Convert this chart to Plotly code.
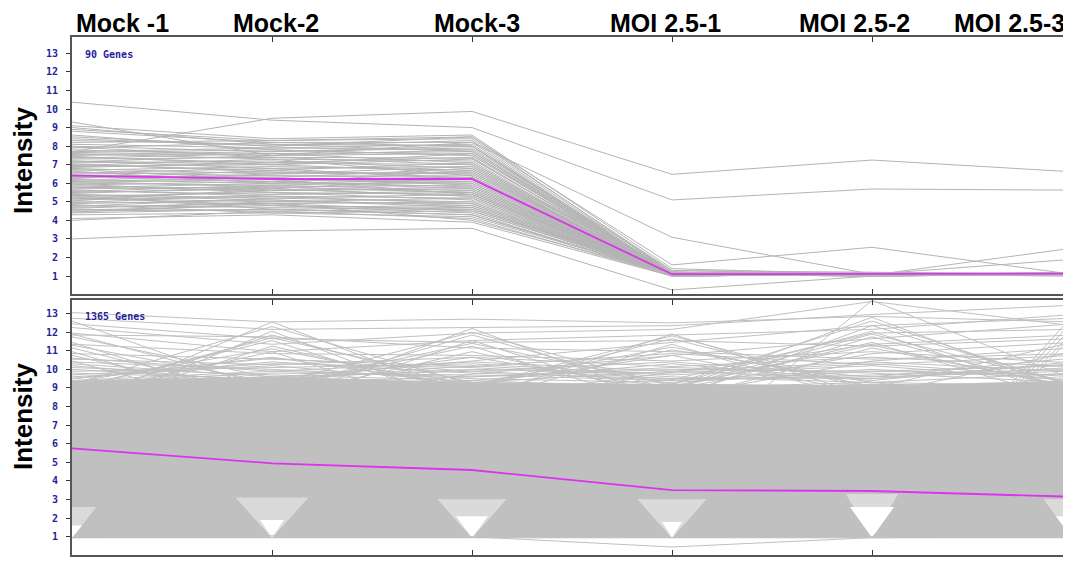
import plotly.graph_objects as go

# ---------------- data ----------------
conditions = ["Mock -1", "Mock-2", "Mock-3", "MOI 2.5-1", "MOI 2.5-2", "MOI 2.5-3"]
y_ticks = [1, 2, 3, 4, 5, 6, 7, 8, 9, 10, 11, 12, 13]
top_count_label = "90 Genes"
bottom_count_label = "1365 Genes"

# top panel: one row per gene, values at the six conditions
top_genes = [
    [10.37, 9.4, 9.0, 5.1, 5.69, 5.63],
    [7.7, 9.5, 9.87, 6.48, 7.25, 6.62],
    [9.3, 7.5, 8.2, 3.09, 1.1, 1.15],
    [3.0, 3.43, 3.57, 0.25, 1.0, 1.1],
    [8.9, 8.3, 8.5, 1.6, 2.55, 1.1],
    [6.1, 5.8, 5.5, 1.1, 1.05, 2.5],
    [7.2, 6.8, 6.9, 1.2, 1.1, 1.9],
    [8.4, 8.0, 8.3, 1.2, 1.1, 1.1],
    [8.2, 8.3, 8.4, 1.3, 1.1, 1.1],
    [8.1, 7.9, 8.1, 1.1, 1.1, 1.1],
    [8.0, 7.7, 7.9, 1.2, 1.2, 1.1],
    [7.9, 8.2, 8.2, 1.1, 1.1, 1.2],
    [7.8, 7.5, 7.6, 1.1, 1.1, 1.1],
    [7.7, 7.9, 7.8, 1.2, 1.1, 1.1],
    [7.6, 7.3, 7.2, 1.1, 1.0, 1.1],
    [7.5, 7.6, 7.7, 1.1, 1.1, 1.1],
    [7.4, 7.1, 7.4, 1.0, 1.1, 1.1],
    [7.3, 7.4, 7.0, 1.1, 1.1, 1.0],
    [7.2, 7.0, 7.3, 1.2, 1.1, 1.1],
    [7.1, 7.2, 6.8, 1.1, 1.1, 1.1],
    [7.0, 6.7, 7.1, 1.1, 1.0, 1.1],
    [6.9, 7.0, 6.6, 1.1, 1.1, 1.1],
    [6.8, 6.5, 6.9, 1.0, 1.1, 1.1],
    [6.7, 6.9, 6.7, 1.1, 1.1, 1.1],
    [6.6, 6.4, 6.3, 1.1, 1.1, 1.1],
    [6.5, 6.6, 6.5, 1.2, 1.1, 1.1],
    [6.4, 6.2, 6.0, 1.1, 1.1, 1.1],
    [6.3, 6.4, 6.4, 1.1, 1.0, 1.1],
    [6.2, 6.0, 6.2, 1.1, 1.1, 1.1],
    [6.1, 6.3, 5.9, 1.0, 1.1, 1.1],
    [6.0, 5.9, 6.1, 1.1, 1.1, 1.1],
    [5.9, 6.1, 5.7, 1.1, 1.1, 1.1],
    [5.8, 5.6, 5.8, 1.1, 1.1, 1.0],
    [5.7, 5.8, 5.5, 1.1, 1.1, 1.1],
    [5.6, 5.4, 5.6, 1.2, 1.1, 1.1],
    [5.5, 5.7, 5.3, 1.1, 1.1, 1.1],
    [5.4, 5.2, 5.4, 1.1, 1.0, 1.1],
    [5.3, 5.5, 5.1, 1.1, 1.1, 1.1],
    [5.2, 5.0, 5.2, 1.0, 1.1, 1.1],
    [5.1, 5.3, 4.9, 1.1, 1.1, 1.1],
    [5.0, 4.9, 5.0, 1.1, 1.1, 1.1],
    [4.9, 5.1, 4.7, 1.1, 1.1, 1.1],
    [4.8, 4.7, 4.8, 1.1, 1.1, 1.1],
    [4.7, 4.9, 4.5, 1.1, 1.1, 1.1],
    [4.6, 4.5, 4.6, 1.2, 1.1, 1.1],
    [4.5, 4.6, 4.3, 1.1, 1.1, 1.1],
    [4.3, 4.4, 4.2, 1.1, 1.0, 1.1],
    [4.1, 4.3, 3.9, 1.0, 1.1, 1.1],
    [8.8, 8.2, 8.0, 1.3, 1.2, 1.1],
    [9.1, 8.4, 8.6, 1.4, 1.1, 1.1],
    [9.0, 8.1, 7.7, 1.2, 1.1, 1.1],
    [8.6, 7.8, 7.5, 1.1, 1.1, 1.1],
    [8.3, 8.1, 8.0, 1.1, 1.1, 1.1],
    [7.95, 7.4, 7.35, 1.1, 1.1, 1.1],
    [7.65, 7.8, 7.5, 1.2, 1.1, 1.1],
    [7.35, 7.6, 7.1, 1.1, 1.1, 1.1],
    [7.05, 6.6, 6.5, 1.1, 1.1, 1.1],
    [6.85, 7.1, 7.0, 1.1, 1.1, 1.1],
    [6.55, 6.8, 6.2, 1.1, 1.1, 1.1],
    [6.35, 6.1, 5.8, 1.1, 1.1, 1.1],
    [6.15, 6.5, 6.6, 1.2, 1.1, 1.1],
    [5.95, 5.5, 5.4, 1.1, 1.1, 1.1],
    [5.75, 6.0, 6.0, 1.1, 1.1, 1.1],
    [5.55, 5.9, 5.6, 1.1, 1.1, 1.1],
    [5.35, 5.1, 4.8, 1.1, 1.1, 1.1],
    [5.15, 5.6, 5.7, 1.1, 1.1, 1.1],
    [4.95, 5.4, 5.5, 1.1, 1.1, 1.1],
    [4.75, 5.2, 5.0, 1.1, 1.1, 1.1],
    [4.55, 4.8, 4.4, 1.0, 1.1, 1.1],
    [4.4, 4.6, 4.7, 1.1, 1.1, 1.1],
    [4.0, 4.5, 4.1, 1.0, 1.1, 1.1],
    [6.45, 6.3, 6.8, 1.1, 1.1, 1.1],
    [6.25, 6.7, 6.3, 1.1, 1.1, 1.1],
    [5.65, 5.3, 5.2, 1.1, 1.1, 1.1],
    [5.45, 5.8, 5.9, 1.1, 1.1, 1.1],
    [5.25, 4.8, 4.6, 1.1, 1.1, 1.1],
    [5.05, 5.7, 5.3, 1.1, 1.1, 1.1],
    [4.85, 4.4, 4.5, 1.1, 1.1, 1.1],
    [4.65, 5.0, 4.9, 1.1, 1.1, 1.1],
    [7.45, 7.0, 7.6, 1.1, 1.1, 1.1],
    [7.15, 7.5, 7.8, 1.1, 1.1, 1.1],
    [6.75, 6.2, 6.1, 1.1, 1.1, 1.1],
    [6.95, 7.3, 6.4, 1.1, 1.1, 1.1],
    [8.5, 8.0, 8.5, 1.2, 1.1, 1.1],
    [6.05, 6.2, 5.4, 1.1, 1.1, 1.1],
    [5.85, 5.7, 6.3, 1.1, 1.1, 1.1],
    [4.45, 4.9, 4.0, 1.1, 1.1, 1.1],
    [7.55, 7.7, 8.0, 1.1, 1.1, 1.1],
    [6.65, 6.0, 6.7, 1.1, 1.1, 1.1],
    [5.35, 4.6, 4.3, 1.1, 1.1, 1.1],
]
top_mean = [6.41, 6.23, 6.23, 1.10, 1.12, 1.13]

# bottom panel: dense core of the 1365 profiles (read as an envelope)
bottom_core_upper = [9.4, 9.6, 9.3, 9.2, 9.1, 9.4]
bottom_core_lower = [0.95, 0.95, 0.95, 0.95, 0.95, 0.95]
# sparse wedge just above the floor at each condition, and its empty centre
bottom_gap_top = [2.6, 3.1, 3.0, 3.0, 3.3, 3.0]
bottom_gap_halfwidth = [0.12, 0.18, 0.17, 0.17, 0.13, 0.14]
bottom_clear_top = [1.6, 1.9, 2.1, 1.8, 2.6, 2.1]
bottom_clear_halfwidth = [0.05, 0.06, 0.08, 0.05, 0.11, 0.08]

# bottom panel: individual profiles visible outside the dense core
bottom_fringe = [
    [13.05, 12.55, 12.7, 12.5, 12.85, 12.55],
    [12.75, 12.15, 12.25, 12.35, 12.95, 13.45],
    [12.25, 11.35, 11.95, 12.15, 13.65, 12.35],
    [11.95, 10.95, 11.55, 11.85, 12.15, 12.95],
    [11.75, 9.55, 10.45, 11.45, 12.35, 12.75],
    [11.45, 8.15, 9.75, 10.75, 11.65, 12.45],
    [11.15, 8.55, 8.85, 9.45, 11.95, 12.15],
    [10.95, 7.85, 8.45, 9.85, 11.35, 11.85],
    [10.75, 8.35, 9.15, 8.95, 10.85, 11.45],
    [10.45, 7.55, 8.05, 8.55, 10.45, 11.15],
    [12.6, 8.8, 9.4, 9.0, 9.3, 9.1],
    [11.9, 9.1, 8.9, 9.2, 8.8, 9.0],
    [11.3, 9.3, 9.1, 8.7, 9.1, 8.9],
    [8.0, 12.55, 8.5, 8.8, 9.0, 8.5],
    [7.6, 12.05, 8.0, 8.3, 8.9, 9.0],
    [8.4, 11.85, 9.0, 9.2, 8.5, 8.7],
    [9.0, 11.55, 8.2, 8.6, 8.1, 8.0],
    [7.9, 11.25, 8.8, 7.8, 8.6, 8.2],
    [8.6, 10.95, 7.5, 9.0, 8.2, 8.9],
    [9.5, 10.65, 9.1, 8.4, 8.7, 8.4],
    [9.2, 12.3, 9.2, 9.0, 9.1, 9.2],
    [8.9, 11.7, 9.3, 9.1, 8.9, 9.0],
    [9.3, 11.1, 9.0, 8.9, 9.2, 9.1],
    [8.8, 8.2, 12.2, 8.3, 8.6, 9.1],
    [8.1, 8.7, 11.85, 8.9, 9.2, 8.6],
    [9.2, 8.0, 11.55, 8.2, 8.0, 8.8],
    [8.5, 9.0, 11.25, 7.9, 8.8, 8.3],
    [7.8, 8.5, 10.95, 8.6, 8.4, 9.3],
    [8.9, 9.3, 10.65, 9.0, 9.0, 8.5],
    [9.1, 9.2, 12.0, 9.1, 9.0, 8.9],
    [9.0, 9.1, 11.4, 9.2, 9.1, 9.2],
    [8.6, 8.9, 8.4, 11.9, 8.5, 8.8],
    [8.2, 8.3, 9.0, 11.65, 8.9, 8.4],
    [9.0, 8.7, 8.2, 11.35, 8.2, 9.0],
    [8.4, 9.1, 8.7, 11.05, 9.3, 8.2],
    [8.8, 8.0, 9.2, 10.75, 8.7, 8.6],
    [9.2, 9.0, 9.1, 11.8, 9.0, 9.1],
    [9.1, 9.2, 9.2, 11.2, 9.1, 9.0],
    [8.3, 8.6, 8.8, 5.0, 13.7, 9.5],
    [8.8, 8.2, 8.5, 8.9, 12.8, 8.8],
    [8.5, 8.9, 9.0, 8.4, 12.35, 9.2],
    [9.1, 8.4, 8.3, 9.2, 12.05, 8.5],
    [8.2, 9.0, 8.9, 8.6, 11.75, 8.9],
    [8.7, 8.6, 8.6, 9.0, 11.45, 8.3],
    [8.9, 8.1, 9.1, 8.3, 11.15, 9.1],
    [9.0, 9.1, 9.0, 9.2, 12.6, 9.1],
    [9.2, 8.9, 9.2, 9.0, 11.9, 9.2],
    [9.1, 9.0, 8.9, 9.1, 11.3, 9.0],
    [8.5, 8.2, 8.7, 8.8, 0.95, 12.55],
    [8.0, 8.8, 8.3, 8.5, 0.95, 12.25],
    [9.0, 8.5, 8.9, 9.1, 0.95, 11.95],
    [8.6, 9.1, 8.4, 8.6, 0.95, 11.75],
    [8.3, 8.4, 9.0, 8.2, 0.95, 12.85],
    [8.7, 8.7, 8.8, 8.9, 9.0, 11.45],
    [8.4, 8.9, 8.5, 8.5, 8.6, 10.95],
    [11.85, 11.75, 11.15, 10.95, 10.55, 10.85],
    [11.35, 10.85, 10.75, 10.45, 10.95, 10.35],
    [10.85, 10.55, 10.15, 10.85, 10.25, 10.75],
    [10.55, 10.25, 10.65, 10.15, 10.65, 10.15],
    [12.45, 11.65, 11.45, 11.55, 11.25, 11.65],
    [10.3, 9.6, 9.9, 9.4, 10.0, 9.5],
    [9.6, 10.2, 9.3, 9.9, 9.5, 10.1],
    [10.0, 9.4, 10.2, 9.6, 9.3, 9.8],
    [9.4, 9.9, 9.6, 10.1, 9.8, 9.3],
    [10.4, 10.0, 9.5, 9.3, 9.9, 10.2],
    [9.8, 9.5, 10.0, 9.8, 10.3, 9.6],
    [9.5, 10.4, 9.8, 9.5, 9.6, 9.9],
    [10.1, 9.7, 9.4, 10.3, 9.4, 10.4],
    [9.9, 10.1, 10.3, 9.7, 10.2, 9.4],
    [9.3, 9.8, 9.7, 9.4, 9.7, 10.0],
    [10.2, 9.3, 9.6, 10.0, 9.9, 9.7],
    [9.7, 10.3, 10.1, 9.5, 9.5, 10.3],
    [10.6, 9.9, 10.4, 9.9, 10.4, 9.9],
    [9.5, 10.6, 9.9, 10.4, 9.6, 10.6],
    [0.95, 0.95, 0.95, 0.95, 0.95, 0.95],
    [0.95, 1.05, 1.0, 0.45, 0.95, 1.0],
]
bottom_mean = [5.75, 4.95, 4.59, 3.51, 3.46, 3.15]

# ---------------- styling ----------------
GRAY = "#c0c0c0"
LINEGRAY = "#b4b4b4"
WEDGE = "#dadada"
MAGENTA = "#dd33ee"
FRAME = "#555555"
TICKBLUE = "#1f1f99"
x_pos = list(range(len(conditions)))


def flatten(rows):
    xs, ys = [], []
    for r in rows:
        xs += x_pos + [None]
        ys += list(r) + [None]
    return xs, ys


def core_polygon(upper, lower, gtop, ghalf):
    n = len(x_pos)
    xs = [x_pos[i] for i in range(n)]
    ys = [upper[i] for i in range(n)]
    last = n - 1
    xs += [x_pos[last], x_pos[last] - ghalf[last], x_pos[last]]
    ys += [gtop[last], gtop[last], lower[last]]
    for i in range(n - 2, 0, -1):
        xs += [x_pos[i], x_pos[i] + ghalf[i], x_pos[i] - ghalf[i], x_pos[i]]
        ys += [lower[i], gtop[i], gtop[i], lower[i]]
    xs += [x_pos[0], x_pos[0] + ghalf[0], x_pos[0]]
    ys += [lower[0], gtop[0], gtop[0]]
    xs.append(x_pos[0])
    ys.append(upper[0])
    return xs, ys


def wedges(lower, gtop, ghalf):
    xs, ys = [], []
    for i in x_pos:
        xs += [x_pos[i], x_pos[i] + ghalf[i], x_pos[i] - ghalf[i], x_pos[i], None]
        ys += [lower[i], gtop[i], gtop[i], lower[i], None]
    return xs, ys


fig = go.Figure()

# top panel
tx, ty = flatten(top_genes)
fig.add_trace(go.Scatter(x=tx, y=ty, mode="lines", line=dict(color=LINEGRAY, width=1),
                         xaxis="x", yaxis="y", hoverinfo="skip", showlegend=False))
fig.add_trace(go.Scatter(x=x_pos, y=top_mean, mode="lines", line=dict(color=MAGENTA, width=1.8),
                         xaxis="x", yaxis="y", showlegend=False))

# bottom panel
cx_, cy_ = core_polygon(bottom_core_upper, bottom_core_lower, bottom_gap_top, bottom_gap_halfwidth)
fig.add_trace(go.Scatter(x=cx_, y=cy_, mode="lines", fill="toself", fillcolor=GRAY,
                         line=dict(color=GRAY, width=0.5), xaxis="x2", yaxis="y2",
                         hoverinfo="skip", showlegend=False))
wx, wy = wedges(bottom_core_lower, bottom_gap_top, bottom_gap_halfwidth)
fig.add_trace(go.Scatter(x=wx, y=wy, mode="lines", fill="toself", fillcolor=WEDGE,
                         line=dict(color=WEDGE, width=0), xaxis="x2", yaxis="y2",
                         hoverinfo="skip", showlegend=False))
kx, ky = wedges(bottom_core_lower, bottom_clear_top, bottom_clear_halfwidth)
fig.add_trace(go.Scatter(x=kx, y=ky, mode="lines", fill="toself", fillcolor="white",
                         line=dict(color="white", width=0), xaxis="x2", yaxis="y2",
                         hoverinfo="skip", showlegend=False))
bx, by = flatten(bottom_fringe)
fig.add_trace(go.Scatter(x=bx, y=by, mode="lines", line=dict(color=GRAY, width=1),
                         xaxis="x2", yaxis="y2", hoverinfo="skip", showlegend=False))
fig.add_trace(go.Scatter(x=x_pos, y=bottom_mean, mode="lines", line=dict(color=MAGENTA, width=1.8),
                         xaxis="x2", yaxis="y2", showlegend=False))

# page has an 8px body margin: the figure starts at (8, 8) in the window
OFF = 8
W, H = 1063, 553
LM = 72 - OFF
PW = W - LM


def px_x(p):
    return (p - 72) / PW


def px_y(p):
    return 1 - (p - OFF) / H


xaxis_common = dict(range=[0, 4.995], tickvals=x_pos, showticklabels=False, ticks="inside",
                    ticklen=5, tickcolor="#333333", tickwidth=1, showline=True, linewidth=2,
                    linecolor=FRAME, mirror="ticks", showgrid=False, zeroline=False)
yaxis_common = dict(tickvals=y_ticks, ticktext=[str(t) for t in y_ticks], ticks="outside",
                    ticklen=4, tickcolor="#333333", tickwidth=1, showline=True, linewidth=2,
                    linecolor=FRAME, mirror=False, showgrid=False, zeroline=False,
                    tickfont=dict(family="DejaVu Sans Mono", size=10, color=TICKBLUE,
                                  weight="bold"),
                    ticklabelstandoff=6)

fig.update_layout(
    width=W, height=H, margin=dict(l=LM, r=0, t=0, b=0),
    paper_bgcolor="white", plot_bgcolor="white",
    xaxis=dict(domain=[0, 1], anchor="y", **xaxis_common),
    yaxis=dict(domain=[px_y(293.5), px_y(37)], range=[0.06, 13.88], anchor="x", **yaxis_common),
    xaxis2=dict(domain=[0, 1], anchor="y2", **xaxis_common),
    yaxis2=dict(domain=[px_y(555), px_y(300)], range=[0.02, 13.73], anchor="x2", **yaxis_common),
)

label_px = [122, 276, 477, 665, 854, 1009]
annotations = []
for lab, cx in zip(conditions, label_px):
    annotations.append(dict(text="<b>%s</b>" % lab, xref="paper", yref="paper",
                            x=px_x(cx), y=px_y(22.5), xanchor="center", yanchor="middle",
                            showarrow=False,
                            font=dict(family="Liberation Sans, Arial", size=25, color="black")))
for cy in (161, 417):
    annotations.append(dict(text="<b>Intensity</b>", xref="paper", yref="paper",
                            x=px_x(23), y=px_y(cy), xanchor="center", yanchor="middle",
                            textangle=-90, showarrow=False,
                            font=dict(family="Liberation Sans, Arial", size=26, color="black")))
for txt, cy in ((top_count_label, 55), (bottom_count_label, 316)):
    annotations.append(dict(text="<b>%s</b>" % txt, xref="paper", yref="paper",
                            x=px_x(83), y=px_y(cy), xanchor="left", yanchor="middle",
                            showarrow=False,
                            font=dict(family="DejaVu Sans Mono", size=10, color=TICKBLUE)))
fig.update_layout(annotations=annotations)

fig.write_html("out.html")
